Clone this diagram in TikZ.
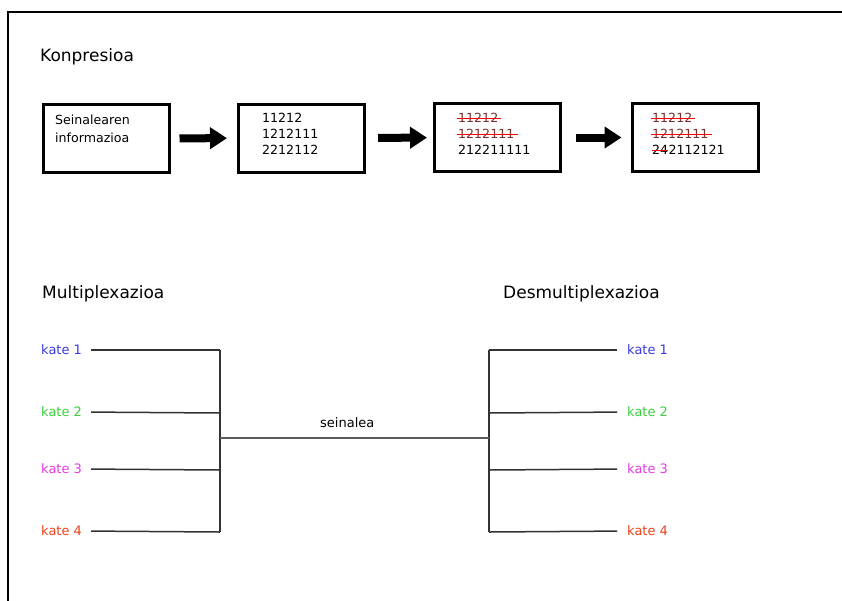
\documentclass[tikz,border=0pt]{standalone}
\usepackage{fontspec}
\setmainfont{DejaVu Sans}
\usetikzlibrary{arrows.meta}
\definecolor{kblue}{RGB}{58,58,222}
\definecolor{kgreen}{RGB}{60,205,60}
\definecolor{kmag}{RGB}{225,60,225}
\definecolor{kred}{RGB}{232,66,30}
\definecolor{struck}{RGB}{120,50,50}
\definecolor{wire}{RGB}{50,50,50}
\tikzset{
  frame/.style={line width=2pt, black},
  head/.style={font=\fontsize{17}{20}\selectfont, anchor=west, inner sep=0pt},
  box/.style={draw, line width=3pt, minimum width=126pt, minimum height=68pt, inner sep=0pt},
  txt/.style={font=\fontsize{12.6}{16}\selectfont, anchor=west, inner sep=0pt},
  struckline/.style={red, line width=0.9pt, shorten <=-1pt, shorten >=-3pt},
  bigarrow/.style={line width=8pt, -{Triangle[width=21pt,length=17pt]}},
  klabel/.style={font=\fontsize{13}{15}\selectfont, inner sep=0pt},
  wireline/.style={wire, line width=1.5pt},
  mainline/.style={wire!80, line width=2pt}
}
\begin{document}
\begin{tikzpicture}[x=1pt,y=-1pt]
\useasboundingbox (0,0) rectangle (842,600);
% frame
\draw[frame] (8,601) -- (8,12) -- (843,12);

% Konpresioa
\node[head] (hk) at (40,57) {Konpresioa};
\node[box] (b1) at (106,138.5) {};
\node[box] (b2) at (301.5,138) {};
\node[box] (b3) at (497.5,137.5) {};
\node[box] (b4) at (695,137.5) {};

\node[txt] (b1l1) at (55,120) {Seinalearen};
\node[txt] (b1l2) at (55,138) {informazioa};

\node[txt] (b2l1) at (262,118) {11212};
\node[txt] (b2l2) at (262,134) {1212111};
\node[txt] (b2l3) at (262,150) {2212112};

\node[txt, text=struck] (b3l1) at (458,118) {11212};
\node[txt, text=struck] (b3l2) at (458,134) {1212111};
\node[txt] (b3l3) at (458,150) {212211111};
\draw[struckline] (b3l1.west) -- (b3l1.east);
\draw[struckline] (b3l2.west) -- (b3l2.east);

\node[txt, text=struck] (b4l1) at (652,118) {11212};
\node[txt, text=struck] (b4l2) at (652,134) {1212111};
\node[txt] (b4l3a) at (652,150) {24};
\node[txt] (b4l3b) at (b4l3a.east) {2112121};
\draw[struckline] (b4l1.west) -- (b4l1.east);
\draw[struckline] (b4l2.west) -- (b4l2.east);
\draw[red, line width=0.9pt] (b4l3a.west) -- (b4l3a.east);

\draw[bigarrow, shorten <=9pt, shorten >=10pt] (b1) -- (b2);
\draw[bigarrow, shorten <=12pt, shorten >=6pt] (b2) -- (b3);
\draw[bigarrow, shorten <=14pt, shorten >=9pt] (b3) -- (b4);

% Multiplexazioa
\node[head] (hm) at (42,294) {Multiplexazioa};
\node[head] (hd) at (503,294) {Desmultiplexazioa};

\node[klabel, text=kblue, anchor=west] (l1) at (41,350) {kate 1};
\node[klabel, text=kgreen, anchor=west] (l2) at (41,412) {kate 2};
\node[klabel, text=kmag, anchor=west] (l3) at (41,469) {kate 3};
\node[klabel, text=kred, anchor=west] (l4) at (41,531) {kate 4};

\coordinate (j1) at (220,350);
\coordinate (j2) at (220,413);
\coordinate (j3) at (220,470);
\coordinate (j4) at (220,532);
\coordinate (jm) at (220,438);

\draw[wireline, shorten <=9pt] (l1.east) -- (j1);
\draw[wireline, shorten <=9pt] (l2.east) -- (j2);
\draw[wireline, shorten <=9pt] (l3.east) -- (j3);
\draw[wireline, shorten <=9pt] (l4.east) -- (j4);
\draw[wireline] (j1) -- (j4);

\node[klabel, text=kblue, anchor=west] (r1) at (627,350) {kate 1};
\node[klabel, text=kgreen, anchor=west] (r2) at (627,412) {kate 2};
\node[klabel, text=kmag, anchor=west] (r3) at (627,469) {kate 3};
\node[klabel, text=kred, anchor=west] (r4) at (627,531) {kate 4};

\coordinate (d1) at (489,350);
\coordinate (d2) at (489,413);
\coordinate (d3) at (489,470);
\coordinate (d4) at (489,532);
\coordinate (dm) at (489,438);

\draw[wireline, shorten >=10pt] (d1) -- (r1.west);
\draw[wireline, shorten >=10pt] (d2) -- (r2.west);
\draw[wireline, shorten >=10pt] (d3) -- (r3.west);
\draw[wireline, shorten >=10pt] (d4) -- (r4.west);
\draw[wireline] (d1) -- (d4);

\draw[mainline] (jm) -- (dm);
\node[klabel, anchor=west] (sig) at (320,423) {seinalea};
\end{tikzpicture}
\end{document}
